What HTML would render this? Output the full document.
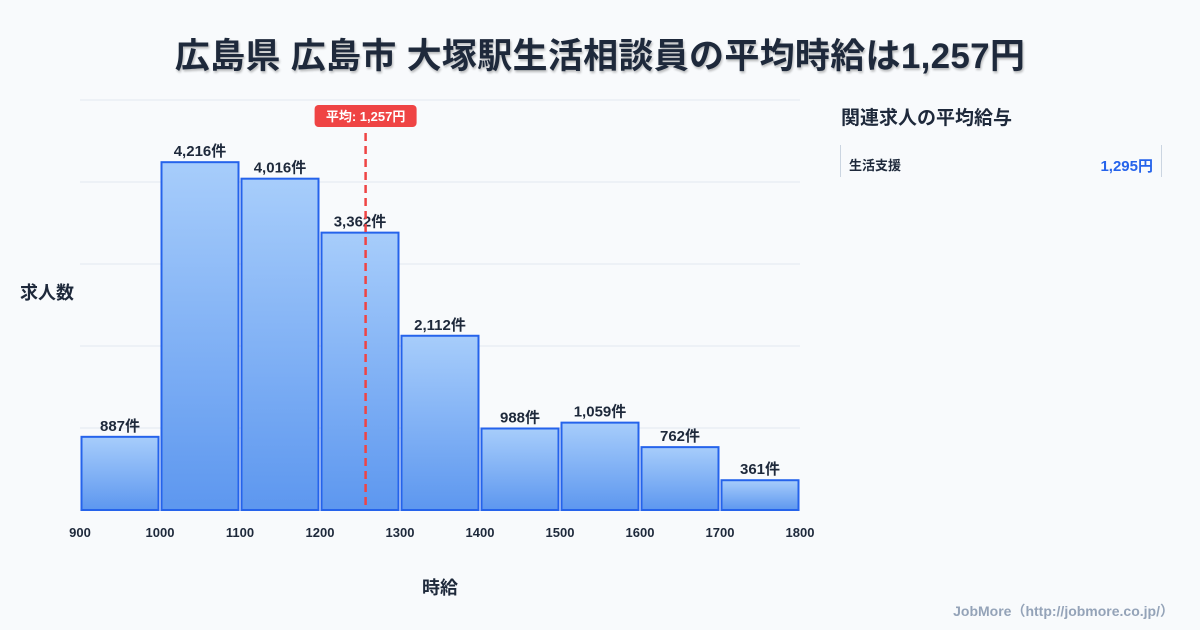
<!DOCTYPE html>
<html><head><meta charset="utf-8">
<style>
body{margin:0;width:1200px;height:630px;background:#f8fafc;font-family:"Liberation Sans","Noto Sans CJK JP",sans-serif;overflow:hidden;position:relative;color:#1e293b}
.title{position:absolute;top:28px;left:0;width:1200px;text-align:center;font-size:35px;font-weight:bold;color:#1e293b;text-shadow:1px 2px 2px rgba(0,0,0,0.25);letter-spacing:0.3px}
.side-title{position:absolute;left:841px;top:103px;font-size:19px;font-weight:bold;color:#1e293b}
.card{position:absolute;left:840px;top:145px;width:320px;height:32px;border-left:1px solid #cbd5e1;border-right:1px solid #cbd5e1}
.card .n{position:absolute;left:8px;top:10px;font-size:13px;font-weight:bold}
.card .v{position:absolute;right:8px;top:10px;font-size:15px;font-weight:bold;color:#2563eb}
.credit{position:absolute;right:26px;top:601px;font-size:14px;font-weight:bold;color:#94a3b8}
</style></head><body>
<div class="title">広島県 広島市 大塚駅生活相談員の平均時給は1,257円</div>
<div class="side-title">関連求人の平均給与</div>
<div class="card"><span class="n">生活支援</span><span class="v">1,295円</span></div>
<div class="credit">JobMore（http://jobmore.co.jp/）</div>
<svg id="chart" width="1200" height="630" style="position:absolute;left:0;top:0">
<defs><linearGradient id="g" x1="0" y1="0" x2="0" y2="1"><stop offset="0" stop-color="#a7cdfb"/><stop offset="1" stop-color="#5d97ef"/></linearGradient></defs>
</svg>
<script>
const binStarts=[900,1000,1100,1200,1300,1400,1500,1600,1700];
const counts=[887,4216,4016,3362,2112,988,1059,762,361];
const labels=["887件","4,216件","4,016件","3,362件","2,112件","988件","1,059件","762件","361件"];
const xTicks=[900,1000,1100,1200,1300,1400,1500,1600,1700,1800];
const yGrid=[0,1000,2000,3000,4000,5000];
const mean=1257;
const meanLabel="平均: 1,257円";
const svg=document.getElementById('chart');
const NS='http://www.w3.org/2000/svg';
const x=v=>80+(v-900)*0.8;
const y=v=>510-v*0.0825;
const gy=v=>510-v*0.082;
function mk(t,a,txt){const e=document.createElementNS(NS,t);for(const k in a)e.setAttribute(k,a[k]);if(txt!==undefined)e.textContent=txt;svg.appendChild(e);return e;}
yGrid.forEach(g=>{const l=mk('line',{x1:80,x2:800,y1:gy(g),y2:gy(g),stroke:'#e2e8f0','stroke-width':1});

});
binStarts.forEach((b,i)=>{
const r=mk('rect',{x:x(b)+1.5,y:y(counts[i]),width:x(b+100)-x(b)-3,height:510-y(counts[i]),fill:'url(#g)',stroke:'#2563eb','stroke-width':2});


const t=mk('text',{x:(x(b)+x(b+100))/2,y:y(counts[i])-6,'text-anchor':'middle','font-size':15,'font-weight':'bold',fill:'#1e293b'},labels[i]);


});
xTicks.forEach(v=>{const t=mk('text',{x:x(v),y:537,'text-anchor':'middle','font-size':13,'font-weight':'bold',fill:'#1e293b'},v);

});
const ml=mk('line',{x1:x(mean),x2:x(mean),y1:133,y2:510,stroke:'#ef4444','stroke-width':2.5,'stroke-dasharray':'8,5'});


const mb=mk('rect',{x:x(mean)-51,y:105,width:102,height:22,rx:4,fill:'#ef4444'});


const mt=mk('text',{x:x(mean),y:121,'text-anchor':'middle','font-size':13,'font-weight':'bold',fill:'#fff'},meanLabel);


const yt=mk('text',{x:20,y:299,'font-size':18,'font-weight':'bold',fill:'#1e293b'},'求人数');


const xt=mk('text',{x:440,y:594,'text-anchor':'middle','font-size':18,'font-weight':'bold',fill:'#1e293b'},'時給');


</script>
</body></html>
